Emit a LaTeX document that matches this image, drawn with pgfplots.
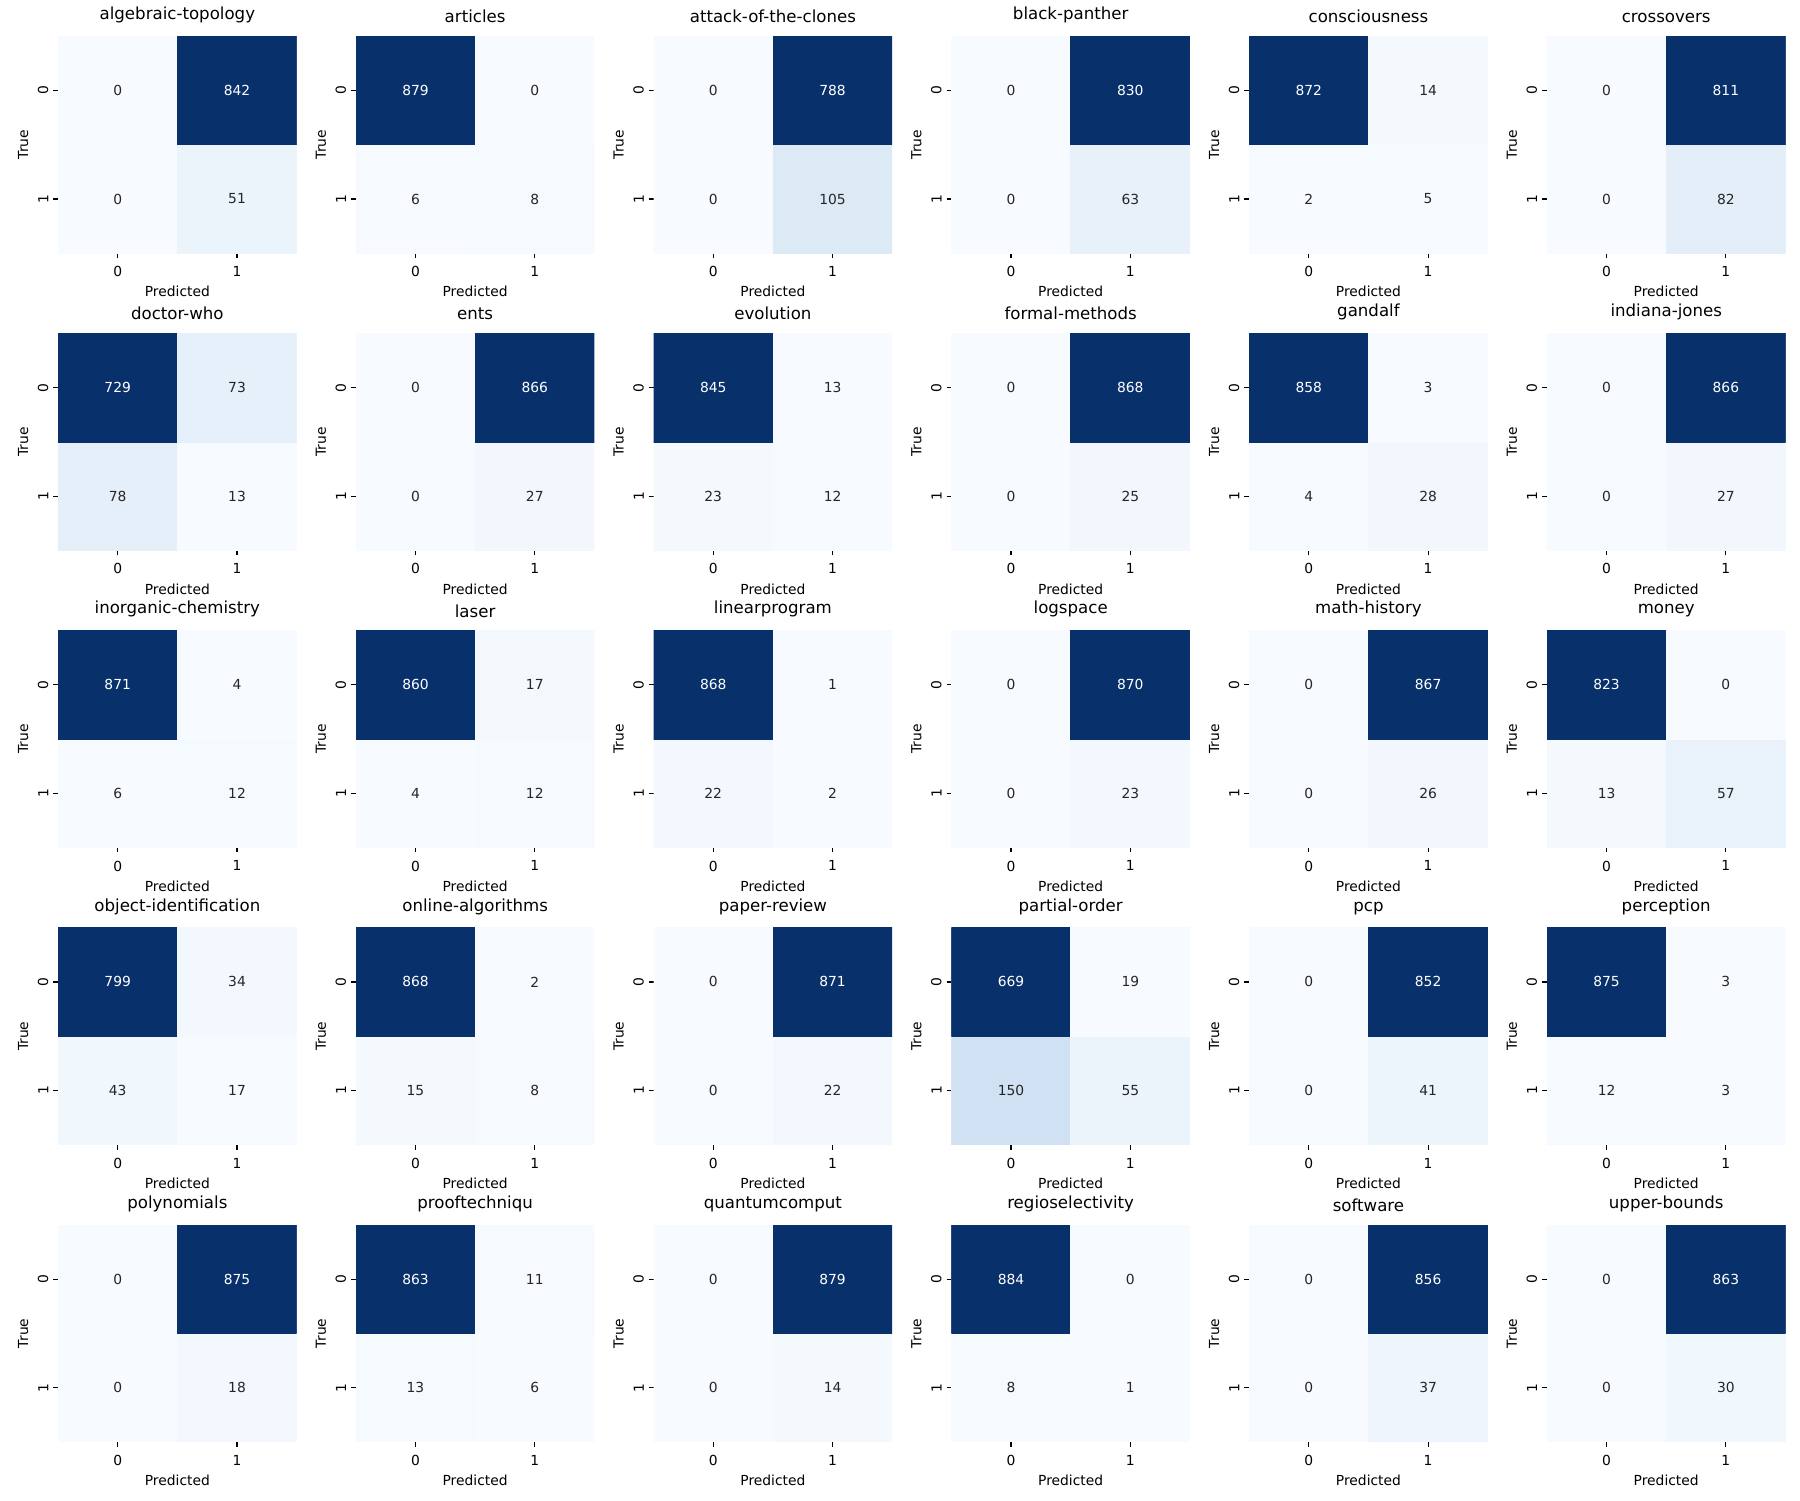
\documentclass[border=0pt]{standalone}
\usepackage{pgfplots}
\pgfplotsset{compat=1.18}
\usepackage{fontspec}
\setmainfont{DejaVu Sans}
\definecolor{annot}{HTML}{262626}
\pgfplotsset{
  colormap={blues}{rgb255=(247,251,255) rgb255=(222,235,247) rgb255=(198,219,239) rgb255=(158,202,225) rgb255=(107,174,214) rgb255=(66,146,198) rgb255=(33,113,181) rgb255=(8,81,156) rgb255=(8,48,107)},
  cmstyle/.style={
    width=2.385in, height=2.17in, scale only axis,
    anchor=north west,
    xmin=-0.5,xmax=1.5,ymin=-0.5,ymax=1.5,
    xtick={0,1}, ytick={0,1}, xticklabels={0,1}, yticklabels={1,0},
    axis line style={draw=none},
    tick align=outside, xtick pos=left, ytick pos=left,
    major tick length=3.5pt,
    tick style={line width=0.8pt, black},
    ticklabel style={font=\fontsize{10}{12}\selectfont},
    xticklabel style={yshift=-2.5pt},
    yticklabel style={rotate=90, anchor=south},
    xlabel={Predicted}, ylabel={True},
    label style={font=\fontsize{10}{12}\selectfont},
    title style={font=\fontsize{12}{14}\selectfont},
    /pgf/number format/assume math mode=true,
    colormap name=blues,
    enlargelimits=false,
  }
}
\newcommand\cm[7]{%
  \pgfmathsetmacro\mx{max(#4,#5,#6,#7)}%
  \pgfmathsetmacro\mn{min(#4,#5,#6,#7)}%
  \pgfmathsetmacro\thr{\mn+0.45*(\mx-\mn)}%
  \pgfmathsetmacro\px{(58+297.6*#1)*0.7227}%
  \pgfmathsetmacro\py{(1463-297*#2)*0.7227}%
  \begin{axis}[cmstyle, at={(\px pt,\py pt)}, title={#3}]
    \addplot[matrix plot*, mesh/cols=2, point meta=explicit,
      visualization depends on={value \thisrow{c} \as \cval},
      nodes near coords={\ifdim\cval pt>\thr pt\color{white}\else\color{annot}\fi\cval},
      every node near coord/.append style={anchor=center, font=\fontsize{10}{12}\selectfont}]
      table[row sep=\\, meta=c] {x y c\\ 0 0 #6\\ 1 0 #7\\ 0 1 #4\\ 1 1 #5\\};
  \end{axis}}
\begin{document}
\begin{tikzpicture}[x=0.01in,y=0.01in]
\path[use as bounding box] (0,0) rectangle (1800,1500);
\cm{0}{0}{algebraic-topology}{0}{842}{0}{51}
\cm{1}{0}{articles}{879}{0}{6}{8}
\cm{2}{0}{attack-of-the-clones}{0}{788}{0}{105}
\cm{3}{0}{black-panther}{0}{830}{0}{63}
\cm{4}{0}{consciousness}{872}{14}{2}{5}
\cm{5}{0}{crossovers}{0}{811}{0}{82}
\cm{0}{1}{doctor-who}{729}{73}{78}{13}
\cm{1}{1}{ents}{0}{866}{0}{27}
\cm{2}{1}{evolution}{845}{13}{23}{12}
\cm{3}{1}{formal-methods}{0}{868}{0}{25}
\cm{4}{1}{gandalf}{858}{3}{4}{28}
\cm{5}{1}{indiana-jones}{0}{866}{0}{27}
\cm{0}{2}{inorganic-chemistry}{871}{4}{6}{12}
\cm{1}{2}{laser}{860}{17}{4}{12}
\cm{2}{2}{linearprogram}{868}{1}{22}{2}
\cm{3}{2}{logspace}{0}{870}{0}{23}
\cm{4}{2}{math-history}{0}{867}{0}{26}
\cm{5}{2}{money}{823}{0}{13}{57}
\cm{0}{3}{object-identification}{799}{34}{43}{17}
\cm{1}{3}{online-algorithms}{868}{2}{15}{8}
\cm{2}{3}{paper-review}{0}{871}{0}{22}
\cm{3}{3}{partial-order}{669}{19}{150}{55}
\cm{4}{3}{pcp}{0}{852}{0}{41}
\cm{5}{3}{perception}{875}{3}{12}{3}
\cm{0}{4}{polynomials}{0}{875}{0}{18}
\cm{1}{4}{prooftechniqu}{863}{11}{13}{6}
\cm{2}{4}{quantumcomput}{0}{879}{0}{14}
\cm{3}{4}{regioselectivity}{884}{0}{8}{1}
\cm{4}{4}{software}{0}{856}{0}{37}
\cm{5}{4}{upper-bounds}{0}{863}{0}{30}
\end{tikzpicture}
\end{document}
